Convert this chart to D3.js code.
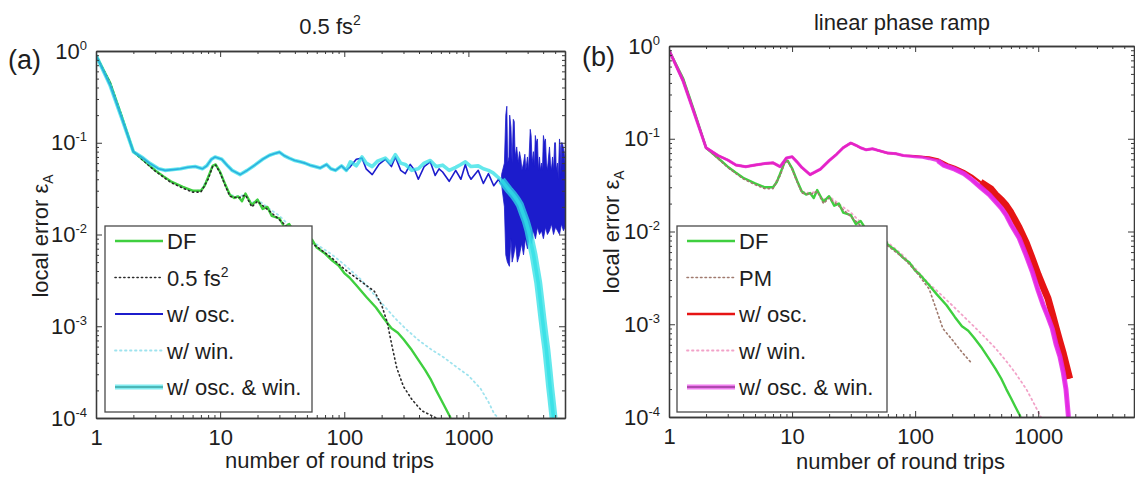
<!DOCTYPE html>
<html><head><meta charset="utf-8">
<script src="https://cdn.jsdelivr.net/npm/d3@7"></script>
<style>
body{margin:0;background:#fff;}
svg{display:block;}
text{font-family:"Liberation Sans",Arial,sans-serif;fill:#1e1e1e;}
</style>
</head><body>
<svg id="c" width="1135" height="478"></svg>
<script>
// ---------------- data ----------------
const xDomain = [1, 6000];
const yDomain = [1e-4, 1];
const xTickValues = [1, 10, 100, 1000];
const xTickLabels = ["1", "10", "100", "1000"];
const yTickValues = [1, 0.1, 0.01, 0.001, 0.0001];
const yTickExponents = ["0", "-1", "-2", "-3", "-4"];
const panelLetters = ["(a)", "(b)"];
const titleA = ["0.5 fs", "2"];
const titleB = "linear phase ramp";
const xLabel = "number of round trips";
const yLabel = ["local error ε", "A"];
const legendA = [["DF",""],["0.5 fs","2"],["w/ osc.",""],["w/ win.",""],["w/ osc. & win.",""]];
const legendB = [["DF",""],["PM",""],["w/ osc.",""],["w/ win.",""],["w/ osc. & win.",""]];

// DF (direct filtering) – same in both panels
const dfData = [[1,0.9],[1.3,0.45],[1.6,0.2],[2,0.08],[2.5,0.062],[3,0.05],[3.5,0.043],[4,0.038],[5,0.033],[6,0.03],[7,0.03],[7.5,0.034],[8,0.042],[8.7,0.056],[9.2,0.058],[10,0.048],[11,0.035],[12,0.027],[13,0.025],[14,0.026],[15,0.023],[16,0.028],[17,0.024],[18,0.021],[20,0.024],[22,0.019],[24,0.02],[26,0.016],[30,0.015],[33,0.012],[36,0.013],[40,0.0105],[45,0.0098],[50,0.0085],[55,0.0088],[60,0.0072],[70,0.0062],[80,0.0052],[90,0.0046],[100,0.0038],[110,0.0034],[125,0.0028],[150,0.0021],[180,0.0016],[210,0.0012],[240,0.00095],[270,0.00085],[300,0.00072],[350,0.00055],[400,0.00042],[450,0.00033],[500,0.00026],[550,0.0002],[600,0.00016],[650,0.00013],[720,0.0001]];

// panel (a)
const fs2Data = [[1,0.9],[1.3,0.45],[1.6,0.2],[2,0.08],[2.5,0.061],[3,0.049],[4,0.037],[5,0.032],[6,0.029],[7,0.029],[8,0.04],[8.7,0.055],[9.2,0.057],[10,0.047],[11,0.034],[12,0.026],[14,0.025],[16,0.027],[18,0.02],[20,0.023],[25,0.018],[30,0.0145],[40,0.0102],[50,0.0085],[60,0.0074],[80,0.0055],[100,0.0042],[120,0.0035],[150,0.0028],[175,0.0024],[200,0.0017],[222,0.0011],[243,0.0006],[265,0.00035],[300,0.00022],[350,0.00016],[420,0.00012],[480,0.00011],[550,0.0001]];
const winAData = [[1,0.9],[1.3,0.45],[1.6,0.2],[2,0.08],[2.5,0.062],[3,0.05],[4,0.038],[5,0.033],[6,0.03],[7,0.03],[8,0.042],[8.7,0.056],[9.2,0.058],[10,0.048],[11,0.035],[12,0.027],[14,0.026],[16,0.027],[18,0.022],[20,0.024],[25,0.019],[30,0.016],[40,0.011],[50,0.0092],[60,0.0078],[80,0.006],[100,0.0047],[134,0.0033],[170,0.0023],[215,0.0016],[260,0.0012],[323,0.0009],[400,0.0007],[500,0.00056],[630,0.00046],[800,0.00036],[1000,0.00029],[1250,0.00021],[1450,0.00015],[1620,0.00011],[1750,0.0001]];
const oscAData = [[1,0.9],[1.3,0.42],[1.6,0.19],[2,0.08],[2.4,0.068],[2.7,0.06],[3.2,0.052],[3.6,0.05],[4.2,0.051],[4.8,0.052],[5.5,0.054],[6.3,0.055],[7.2,0.052],[7.8,0.056],[8.5,0.066],[9.1,0.07],[10.3,0.066],[11.5,0.056],[12.5,0.05],[14.5,0.045],[16.5,0.05],[19,0.057],[22,0.066],[25,0.073],[28,0.077],[30,0.079],[33,0.072],[36,0.068],[40,0.064],[44,0.062],[48,0.06],[53,0.057],[58,0.055],[64,0.053],[72,0.058],[78,0.052],[85,0.05],[95,0.056],[104,0.05],[112,0.055],[125,0.066],[139,0.068],[150,0.052],[168,0.045],[190,0.058],[214,0.066],[240,0.055],[258,0.07],[285,0.05],[310,0.046],[340,0.058],[370,0.05],[395,0.04],[440,0.055],[493,0.062],[540,0.044],[580,0.052],[620,0.048],[700,0.038],[790,0.05],[870,0.04],[945,0.058],[1000,0.045],[1050,0.04],[1200,0.05],[1320,0.036],[1450,0.046],[1600,0.034],[1750,0.04],[1850,0.035]];
const oscATailHi = [[1850,0.045],[1950,0.06],[2000,0.2],[2040,0.25],[2070,0.06],[2120,0.07],[2150,0.2],[2200,0.15],[2250,0.06],[2300,0.18],[2340,0.17],[2380,0.07],[2450,0.09],[2520,0.06],[2580,0.08],[2650,0.065],[2700,0.05],[2780,0.06],[2850,0.075],[2900,0.05],[2990,0.07],[3050,0.05],[3150,0.14],[3200,0.12],[3260,0.06],[3340,0.08],[3400,0.055],[3460,0.12],[3520,0.1],[3600,0.11],[3660,0.05],[3740,0.07],[3800,0.05],[3880,0.06],[3950,0.05],[4020,0.12],[4100,0.1],[4177,0.11],[4250,0.06],[4330,0.05],[4420,0.07],[4500,0.09],[4580,0.06],[4670,0.05],[4760,0.07],[4850,0.05],[4950,0.1],[5030,0.1],[5100,0.05],[5220,0.06],[5300,0.04],[5415,0.11],[5500,0.09],[5560,0.045],[5620,0.1],[5700,0.1],[5800,0.09],[5900,0.08],[6000,0.06]];
const oscATailLo = [[1850,0.035],[1950,0.02],[2000,0.006],[2060,0.005],[2140,0.0045],[2200,0.009],[2250,0.005],[2320,0.006],[2400,0.008],[2480,0.005],[2580,0.006],[2680,0.008],[2780,0.006],[2880,0.009],[2990,0.007],[3100,0.01],[3220,0.008],[3340,0.011],[3470,0.009],[3600,0.012],[3740,0.01],[3880,0.011],[4020,0.009],[4180,0.012],[4330,0.01],[4500,0.011],[4670,0.013],[4850,0.01],[5030,0.012],[5220,0.011],[5420,0.01],[5620,0.013],[5830,0.011],[6000,0.012]];
const oscWinAData = [[1,0.9],[1.3,0.42],[1.6,0.19],[2,0.08],[2.4,0.068],[2.7,0.06],[3.2,0.052],[3.6,0.05],[4.2,0.051],[4.8,0.052],[5.5,0.054],[6.3,0.055],[7.2,0.052],[7.8,0.056],[8.5,0.066],[9.1,0.07],[10.3,0.066],[11.5,0.056],[12.5,0.05],[14.5,0.045],[16.5,0.05],[19,0.057],[22,0.066],[25,0.073],[28,0.077],[30,0.079],[33,0.072],[36,0.068],[40,0.064],[44,0.062],[48,0.06],[53,0.057],[58,0.055],[64,0.053],[72,0.058],[78,0.052],[85,0.05],[95,0.056],[104,0.05],[112,0.062],[125,0.056],[139,0.07],[150,0.06],[168,0.055],[185,0.063],[214,0.068],[235,0.06],[258,0.074],[285,0.06],[310,0.058],[350,0.05],[395,0.052],[440,0.06],[493,0.064],[550,0.055],[620,0.057],[700,0.05],[790,0.054],[870,0.058],[945,0.062],[1050,0.055],[1200,0.056],[1320,0.052],[1450,0.05],[1580,0.047],[1700,0.043],[1850,0.039],[2000,0.034],[2150,0.03],[2300,0.027],[2450,0.024],[2600,0.021],[2750,0.017],[2900,0.014],[3050,0.011],[3200,0.008],[3350,0.006],[3500,0.0042],[3650,0.003],[3800,0.0019],[3950,0.0012],[4100,0.0008],[4250,0.00055],[4400,0.00035],[4550,0.00022],[4650,0.00017],[4750,0.00013],[4850,0.0001]];

// panel (b)
const pmData = [[1,0.9],[1.3,0.45],[1.6,0.2],[2,0.08],[2.5,0.061],[3,0.049],[4,0.037],[5,0.032],[6,0.029],[7,0.029],[8,0.04],[8.7,0.055],[9.2,0.057],[10,0.047],[11,0.034],[12,0.026],[14,0.025],[16,0.027],[18,0.02],[20,0.023],[25,0.018],[30,0.0145],[40,0.0102],[50,0.0083],[60,0.007],[80,0.0052],[100,0.0038],[130,0.0024],[168,0.0009],[200,0.00068],[240,0.0005],[288,0.00038]];
const winBData = [[1,0.9],[1.3,0.45],[1.6,0.2],[2,0.08],[2.5,0.062],[3,0.05],[4,0.038],[5,0.033],[6,0.03],[7,0.03],[8,0.042],[8.7,0.056],[9.2,0.058],[10,0.048],[11,0.035],[12,0.027],[14,0.026],[16,0.027],[18,0.022],[20,0.024],[25,0.019],[30,0.016],[40,0.011],[50,0.0092],[60,0.0076],[80,0.0055],[100,0.004],[127,0.0028],[150,0.0023],[200,0.0016],[250,0.0012],[300,0.00095],[370,0.00072],[450,0.00055],[550,0.0004],[650,0.0003],[800,0.0002],[950,0.00013],[1050,0.0001]];
const oscBData = [[1,0.9],[1.3,0.42],[1.6,0.19],[2,0.08],[2.5,0.066],[3,0.059],[3.5,0.052],[4.2,0.05],[5,0.052],[6,0.054],[7,0.055],[8,0.05],[9,0.062],[10,0.064],[11,0.056],[12,0.049],[14,0.041],[17,0.047],[20,0.058],[23,0.068],[26,0.08],[30,0.09],[33,0.085],[36,0.08],[40,0.076],[45,0.078],[50,0.075],[60,0.07],[70,0.069],[80,0.066],[100,0.065],[115,0.064],[130,0.063],[153,0.06],[184,0.053],[210,0.05],[250,0.045],[290,0.04],[340,0.034],[410,0.029],[450,0.025],[500,0.022],[550,0.019],[600,0.016],[700,0.011],[800,0.0075],[900,0.005],[1000,0.0034],[1100,0.0025],[1200,0.0019],[1300,0.0013],[1400,0.0009],[1500,0.00065],[1600,0.00048],[1700,0.00035],[1800,0.00026]];
const oscWinBData = [[1,0.9],[1.3,0.42],[1.6,0.19],[2,0.08],[2.5,0.066],[3,0.059],[3.5,0.052],[4.2,0.05],[5,0.052],[6,0.054],[7,0.055],[8,0.05],[9,0.062],[10,0.064],[11,0.056],[12,0.049],[14,0.041],[17,0.047],[20,0.058],[23,0.068],[26,0.08],[30,0.09],[33,0.085],[36,0.08],[40,0.076],[45,0.078],[50,0.075],[60,0.07],[70,0.069],[80,0.066],[100,0.064],[115,0.063],[130,0.061],[153,0.058],[170,0.052],[184,0.05],[210,0.047],[250,0.042],[290,0.036],[340,0.03],[400,0.025],[450,0.021],[500,0.018],[550,0.015],[600,0.012],[700,0.0085],[800,0.0055],[900,0.0036],[1000,0.0023],[1100,0.0016],[1200,0.0012],[1300,0.0009],[1400,0.0006],[1500,0.00045],[1600,0.0003],[1680,0.0002],[1730,0.00013],[1760,0.0001]];

// ---------------- drawing ----------------
const svg = d3.select("#c");
const FONT = 22;

function minorTicks(lo, hi) {
  const out = [];
  for (let e = Math.floor(Math.log10(lo)); e <= Math.ceil(Math.log10(hi)); e++) {
    for (let k = 2; k <= 9; k++) {
      const v = k * Math.pow(10, e);
      if (v > lo && v < hi) out.push(v);
    }
  }
  return out;
}

function sup(sel, parts, supSize, dy) {
  sel.append("tspan").text(parts[0]);
  if (parts[1]) sel.append("tspan").attr("font-size", supSize).attr("dy", dy).text(parts[1]);
}

function panel(cfg) {
  const g = svg.append("g");
  const x = d3.scaleLog().domain(xDomain).range([cfg.left, cfg.right]);
  const y = d3.scaleLog().domain(yDomain).range([cfg.bottom, cfg.top]);
  const clipId = "clip" + cfg.id;
  svg.append("clipPath").attr("id", clipId).append("rect")
    .attr("x", cfg.left).attr("y", cfg.top - 2)
    .attr("width", cfg.right - cfg.left).attr("height", cfg.bottom - cfg.top + 2);

  const line = d3.line().x(d => x(d[0])).y(d => y(d[1]));
  const plot = g.append("g").attr("clip-path", `url(#${clipId})`);

  cfg.series.forEach(s => {
    if (s.band) {
      const pts = s.band[0].concat(s.band[1].slice().reverse());
      plot.append("path").attr("d", line(pts) + "Z")
        .attr("fill", s.color).attr("stroke", s.color).attr("stroke-width", 0.8);
      return;
    }
    const p = plot.append("path").attr("d", line(s.data))
      .attr("fill", "none").attr("stroke", s.color).attr("stroke-width", s.width)
      .attr("stroke-linejoin", "round").attr("stroke-linecap", s.dash ? "round" : "butt");
    if (s.dash) p.attr("stroke-dasharray", s.dash);
    if (s.opacity) p.attr("stroke-opacity", s.opacity);
    if (s.tailFrom) {
      const tail = s.data.filter(d => d[0] >= s.tailFrom);
      const t = plot.append("path").attr("d", line(tail))
        .attr("fill", "none").attr("stroke", s.color).attr("stroke-width", s.tailWidth)
        .attr("stroke-linejoin", "round");
      if (s.opacity) t.attr("stroke-opacity", s.opacity);
    }
  });

  // axes
  const axColor = "#3a3a3a";
  const xMinor = minorTicks(xDomain[0], xDomain[1]);
  const yMinor = minorTicks(yDomain[0], yDomain[1]);
  const styleAxis = a => {
    a.selectAll("path.domain").attr("stroke", axColor).attr("stroke-width", 1.3);
    a.selectAll("line").attr("stroke", axColor).attr("stroke-width", 1);
  };
  // bottom
  const bMaj = g.append("g").attr("transform", `translate(0,${cfg.bottom})`)
    .call(d3.axisBottom(x).tickValues(xTickValues).tickSize(-6).tickSizeOuter(0).tickPadding(11)
      .tickFormat((d, i) => xTickLabels[i]));
  bMaj.selectAll("text").attr("font-size", FONT).attr("font-family", "Liberation Sans, Arial, sans-serif").attr("fill", "#1e1e1e");
  styleAxis(bMaj);
  const bMin = g.append("g").attr("transform", `translate(0,${cfg.bottom})`)
    .call(d3.axisBottom(x).tickValues(xMinor).tickSize(-3).tickSizeOuter(0).tickFormat(""));
  styleAxis(bMin);
  // top
  const tMaj = g.append("g").attr("transform", `translate(0,${cfg.top})`)
    .call(d3.axisTop(x).tickValues(xTickValues).tickSize(-6).tickSizeOuter(0).tickFormat(""));
  styleAxis(tMaj);
  const tMin = g.append("g").attr("transform", `translate(0,${cfg.top})`)
    .call(d3.axisTop(x).tickValues(xMinor).tickSize(-3).tickSizeOuter(0).tickFormat(""));
  styleAxis(tMin);
  // left
  const lMaj = g.append("g").attr("transform", `translate(${cfg.left},0)`)
    .call(d3.axisLeft(y).tickValues(yTickValues).tickSize(-6).tickSizeOuter(0).tickPadding(9)
      .tickFormat(() => "10"));
  lMaj.selectAll("text").attr("font-size", FONT).attr("font-family", "Liberation Sans, Arial, sans-serif").attr("fill", "#1e1e1e")
    .each(function(d, i) {
      d3.select(this).append("tspan").attr("font-size", 13).attr("dy", -9).text(yTickExponents[i]);
    });
  styleAxis(lMaj);
  const lMin = g.append("g").attr("transform", `translate(${cfg.left},0)`)
    .call(d3.axisLeft(y).tickValues(yMinor).tickSize(-3).tickSizeOuter(0).tickFormat(""));
  styleAxis(lMin);
  // right
  const rMaj = g.append("g").attr("transform", `translate(${cfg.right},0)`)
    .call(d3.axisRight(y).tickValues(yTickValues).tickSize(-6).tickSizeOuter(0).tickFormat(""));
  styleAxis(rMaj);
  const rMin = g.append("g").attr("transform", `translate(${cfg.right},0)`)
    .call(d3.axisRight(y).tickValues(yMinor).tickSize(-3).tickSizeOuter(0).tickFormat(""));
  styleAxis(rMin);

  // labels
  g.append("text").attr("x", (cfg.left + cfg.right) / 2 - 1).attr("y", cfg.xLabelY)
    .attr("text-anchor", "middle").attr("font-size", FONT).text(xLabel);
  const yl = g.append("text").attr("transform", `translate(${cfg.yLabelX},${cfg.yLabelY}) rotate(-90)`)
    .attr("text-anchor", "middle").attr("font-size", FONT);
  yl.append("tspan").text(yLabel[0]);
  yl.append("tspan").attr("font-size", 14).attr("dy", 5).text(yLabel[1]);

  g.append("text").attr("x", cfg.letterX).attr("y", cfg.letterY).attr("font-size", 27)
    .attr("font-family", "'Open Sans', 'Liberation Sans', sans-serif").text(cfg.letter);

  const tt = g.append("text").attr("x", cfg.titleX).attr("y", cfg.titleY)
    .attr("text-anchor", "middle").attr("font-size", FONT);
  sup(tt, cfg.title, 14, -9);

  // legend
  const lg = g.append("g");
  lg.append("rect").attr("x", cfg.legend.x).attr("y", cfg.legend.y)
    .attr("width", cfg.legend.w).attr("height", cfg.legend.h)
    .attr("fill", "#fff").attr("stroke", "#4a4a4a").attr("stroke-width", 1.3);
  cfg.legendItems.forEach((it, i) => {
    const yy = cfg.legend.y + 15 + i * 36.5;
    const s = it.style;
    if (s.halo) {
      lg.append("line").attr("x1", cfg.legend.x + 10).attr("x2", cfg.legend.x + 58)
        .attr("y1", yy).attr("y2", yy).attr("stroke", s.halo).attr("stroke-width", 5).attr("stroke-opacity", 0.6);
    }
    const ln = lg.append("line").attr("x1", cfg.legend.x + 10).attr("x2", cfg.legend.x + 58)
      .attr("y1", yy).attr("y2", yy).attr("stroke", s.color).attr("stroke-width", s.lw);
    if (s.dash) ln.attr("stroke-dasharray", s.dash).attr("stroke-linecap", "round");
    const t = lg.append("text").attr("x", cfg.legend.x + 62).attr("y", yy + 8).attr("font-size", FONT);
    sup(t, it.label, 14, -9);
  });
}

const green = "#3fcf3f";
const dark = "#2b2b2b";
const blue = "#1c1ccc";
const lcyan = "#9fe3ee";
const cyan = "#2fe0e6";
const pmCol = "#a07a6e";
const red = "#e61414";
const pink = "#f2a2c8";
const magenta = "#e426e4";

panel({
  id: "a", left: 96, right: 565, top: 51, bottom: 418,
  xLabelY: 468, yLabelX: 48, yLabelY: 236,
  letter: panelLetters[0], letterX: 8, letterY: 69,
  title: titleA, titleX: 330, titleY: 34,
  legend: {x: 105, y: 226, w: 207, h: 186},
  series: [
    {data: winAData, color: lcyan, width: 1.8, dash: "1.5,3.5"},
    {data: dfData, color: green, width: 2.4},
    {data: fs2Data, color: dark, width: 1.6, dash: "1.2,3.2"},
    {band: [oscATailHi, oscATailLo], color: blue},
    {data: oscAData, color: blue, width: 1.6},
    {data: oscWinAData, color: cyan, width: 3.6, opacity: 0.75, tailFrom: 1850, tailWidth: 8}
  ],
  legendItems: [
    {label: legendA[0], style: {color: green, lw: 2.4}},
    {label: legendA[1], style: {color: dark, lw: 1.6, dash: "1.2,3.2"}},
    {label: legendA[2], style: {color: blue, lw: 2.2}},
    {label: legendA[3], style: {color: lcyan, lw: 1.8, dash: "1.5,3.5"}},
    {label: legendA[4], style: {color: "#3aa6a6", lw: 1.6, halo: cyan}}
  ]
});

panel({
  id: "b", left: 669, right: 1134, top: 46, bottom: 417,
  xLabelY: 469, yLabelX: 619, yLabelY: 232,
  letter: panelLetters[1], letterX: 582, letterY: 66,
  title: [titleB, ""], titleX: 902, titleY: 30,
  legend: {x: 677, y: 226, w: 210, h: 186},
  series: [
    {data: winBData, color: pink, width: 1.8, dash: "1.5,3.5"},
    {data: dfData, color: green, width: 2.4},
    {data: pmData, color: pmCol, width: 1.6, dash: "1.5,3"},
    {data: oscBData, color: red, width: 2.2, tailFrom: 300, tailWidth: 7},
    {data: oscWinBData, color: magenta, width: 3, opacity: 0.85, tailFrom: 150, tailWidth: 5}
  ],
  legendItems: [
    {label: legendB[0], style: {color: green, lw: 2.4}},
    {label: legendB[1], style: {color: pmCol, lw: 1.6, dash: "1.5,3"}},
    {label: legendB[2], style: {color: red, lw: 2.4}},
    {label: legendB[3], style: {color: pink, lw: 1.8, dash: "1.5,3.5"}},
    {label: legendB[4], style: {color: "#9a3a9a", lw: 1.6, halo: magenta}}
  ]
});
</script>
</body></html>
